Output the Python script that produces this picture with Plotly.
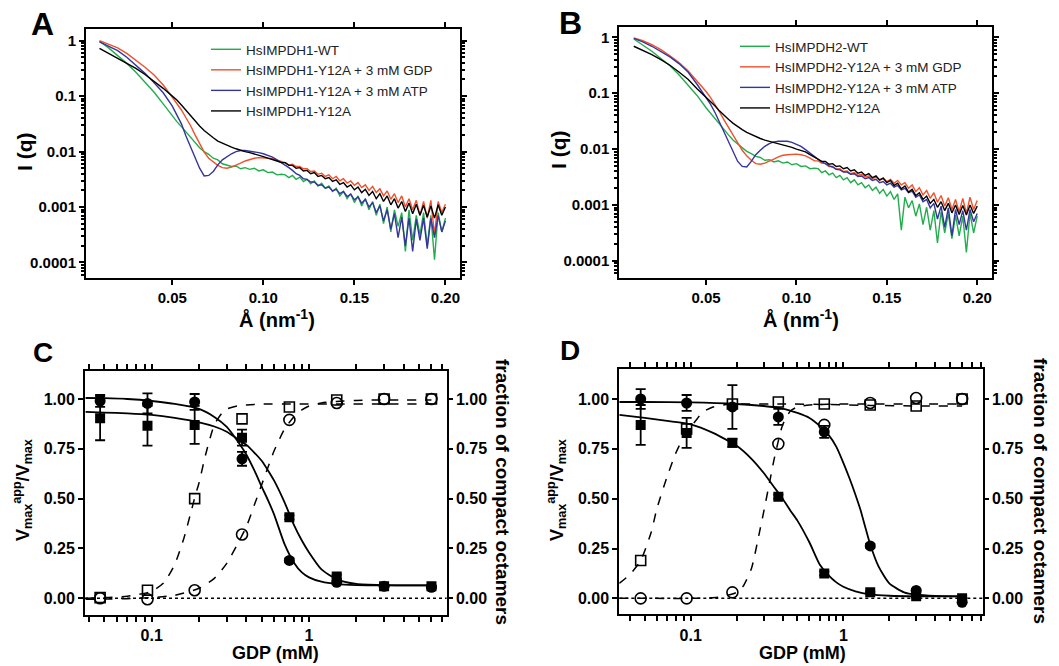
import plotly.graph_objects as go

# ---------------- Panels A / B : SAXS curves ----------------
Q_SMOOTH = [0.010, 0.015, 0.020, 0.025, 0.030, 0.035, 0.040, 0.045, 0.050,
            0.0525, 0.055, 0.0575, 0.060, 0.0625, 0.065, 0.0675, 0.070, 0.0725, 0.075, 0.0775,
            0.080, 0.0825, 0.085, 0.0875, 0.090, 0.0925, 0.095, 0.0975, 0.100, 0.1025, 0.105, 0.1075, 0.110]
Q_NOISY = [0.112, 0.114, 0.116, 0.118, 0.120, 0.122, 0.124, 0.126, 0.128, 0.130,
           0.132, 0.134, 0.136, 0.138, 0.140, 0.142, 0.144, 0.146, 0.148, 0.150,
           0.152, 0.154, 0.156, 0.158, 0.160, 0.162, 0.164, 0.166, 0.168, 0.170,
           0.172, 0.174, 0.176, 0.178, 0.180, 0.182, 0.184, 0.186, 0.188, 0.190,
           0.192, 0.194, 0.196, 0.198, 0.200]

# log10 I(q)  (smooth part, then noisy high-q part)
A_WT = [-0.01, -0.13, -0.27, -0.41, -0.57, -0.75, -0.93, -1.14, -1.36,
        -1.46, -1.55, -1.65, -1.75, -1.85, -1.93, -2.00, -2.05, -2.12, -2.15, -2.22,
        -2.24, -2.27, -2.26, -2.31, -2.29, -2.32, -2.30, -2.35, -2.33, -2.38, -2.37, -2.42, -2.41,
        -2.42, -2.47, -2.43, -2.50, -2.46, -2.54, -2.50, -2.58, -2.53, -2.62,
        -2.57, -2.66, -2.62, -2.72, -2.66, -2.80, -2.72, -2.85, -2.76, -2.92,
        -2.80, -2.98, -2.85, -3.05, -2.90, -3.15, -2.95, -3.30, -3.00, -3.45,
        -3.05, -3.35, -3.10, -3.80, -3.05, -3.60, -3.15, -3.50, -3.10, -3.70,
        -3.15, -3.95, -3.10, -3.45, -3.20]
A_GDP = [0.00, -0.06, -0.13, -0.23, -0.35, -0.48, -0.62, -0.80, -1.02,
         -1.13, -1.25, -1.39, -1.53, -1.70, -1.86, -2.01, -2.12, -2.19, -2.25, -2.29,
         -2.30, -2.28, -2.25, -2.21, -2.17, -2.14, -2.12, -2.11, -2.11, -2.12, -2.13, -2.16, -2.19,
         -2.20, -2.24, -2.23, -2.27, -2.27, -2.31, -2.31, -2.36, -2.35, -2.41,
         -2.39, -2.45, -2.42, -2.49, -2.45, -2.53, -2.49, -2.57, -2.53, -2.61,
         -2.56, -2.65, -2.60, -2.70, -2.63, -2.74, -2.67, -2.80, -2.71, -2.86,
         -2.76, -2.92, -2.80, -3.00, -2.85, -3.05, -2.88, -3.15, -2.90, -3.20,
         -2.88, -3.50, -2.90, -3.10, -2.95]
A_ATP = [-0.02, -0.10, -0.18, -0.30, -0.44, -0.59, -0.76, -0.94, -1.18,
         -1.34, -1.50, -1.72, -1.92, -2.12, -2.30, -2.44, -2.43, -2.36, -2.24, -2.15,
         -2.09, -2.04, -2.00, -1.98, -1.98, -1.99, -2.00, -2.02, -2.04, -2.07, -2.10, -2.15, -2.20,
         -2.24, -2.29, -2.34, -2.40, -2.43, -2.49, -2.50, -2.55, -2.55, -2.61,
         -2.60, -2.66, -2.64, -2.71, -2.68, -2.76, -2.72, -2.81, -2.77, -2.87,
         -2.82, -2.93, -2.86, -3.00, -2.92, -3.10, -2.98, -3.25, -3.05, -3.40,
         -3.12, -3.55, -3.18, -3.70, -3.20, -3.80, -3.22, -3.60, -3.20, -3.75,
         -3.20, -3.55, -3.15, -3.45, -3.25]
A_Y12A = [-0.14, -0.23, -0.31, -0.40, -0.50, -0.61, -0.73, -0.86, -1.00,
          -1.07, -1.16, -1.26, -1.36, -1.45, -1.54, -1.62, -1.69, -1.75, -1.81, -1.85,
          -1.89, -1.92, -1.95, -1.98, -2.00, -2.02, -2.04, -2.07, -2.09, -2.12, -2.14, -2.17, -2.20,
          -2.20, -2.25, -2.25, -2.30, -2.29, -2.35, -2.34, -2.40, -2.38, -2.45,
          -2.43, -2.49, -2.47, -2.54, -2.51, -2.59, -2.56, -2.64, -2.60, -2.69,
          -2.64, -2.74, -2.68, -2.79, -2.72, -2.85, -2.76, -2.90, -2.80, -2.96,
          -2.85, -3.02, -2.90, -3.08, -2.93, -3.12, -2.95, -3.15, -2.97, -3.18,
          -2.98, -3.20, -2.96, -3.15, -3.00]

# log10 I(q)
B_WT = [-0.03, -0.14, -0.25, -0.38, -0.51, -0.67, -0.85, -1.04, -1.26,
        -1.36, -1.46, -1.57, -1.66, -1.75, -1.84, -1.91, -1.98, -2.04, -2.08, -2.13,
        -2.15, -2.20, -2.19, -2.23, -2.21, -2.25, -2.23, -2.28, -2.26, -2.31, -2.30, -2.35, -2.34,
        -2.35, -2.42, -2.39, -2.46, -2.43, -2.51, -2.47, -2.55, -2.51, -2.60,
        -2.55, -2.64, -2.60, -2.69, -2.64, -2.74, -2.68, -2.79, -2.72, -2.84,
        -2.76, -2.90, -2.80, -3.45, -2.86, -3.05, -2.92, -3.20, -2.98, -3.35,
        -3.04, -3.45, -3.10, -3.68, -3.12, -3.50, -3.15, -3.60, -3.18, -3.55,
        -3.20, -3.85, -3.15, -3.50, -3.20]
B_GDP = [-0.01, -0.06, -0.13, -0.22, -0.33, -0.45, -0.60, -0.78, -0.97,
         -1.08, -1.20, -1.34, -1.48, -1.62, -1.76, -1.90, -2.02, -2.12, -2.20, -2.26,
         -2.27, -2.25, -2.22, -2.18, -2.14, -2.11, -2.10, -2.09, -2.09, -2.10, -2.12, -2.16, -2.21,
         -2.21, -2.25, -2.26, -2.31, -2.31, -2.36, -2.35, -2.40, -2.39, -2.44,
         -2.42, -2.47, -2.45, -2.50, -2.48, -2.53, -2.50, -2.56, -2.52, -2.58,
         -2.54, -2.61, -2.56, -2.64, -2.60, -2.70, -2.64, -2.76, -2.69, -2.82,
         -2.74, -2.88, -2.78, -2.95, -2.83, -3.02, -2.87, -3.08, -2.90, -3.12,
         -2.88, -3.15, -2.86, -3.08, -2.92]
B_ATP = [-0.02, -0.08, -0.16, -0.25, -0.35, -0.47, -0.62, -0.84, -1.08,
         -1.20, -1.35, -1.52, -1.70, -1.88, -2.06, -2.22, -2.31, -2.32, -2.22, -2.10,
         -2.02, -1.95, -1.90, -1.87, -1.86, -1.86, -1.86, -1.88, -1.91, -1.95, -2.01, -2.07, -2.14,
         -2.18, -2.23, -2.26, -2.30, -2.32, -2.36, -2.37, -2.41, -2.41, -2.45,
         -2.44, -2.49, -2.48, -2.53, -2.51, -2.56, -2.54, -2.60, -2.58, -2.64,
         -2.61, -2.68, -2.65, -2.73, -2.70, -2.78, -2.75, -2.86, -2.82, -2.94,
         -2.90, -3.05, -2.97, -3.25, -3.02, -3.40, -3.05, -3.55, -3.08, -3.35,
         -3.10, -3.45, -3.08, -3.30, -3.15]
B_Y12A = [-0.16, -0.23, -0.31, -0.40, -0.50, -0.62, -0.75, -0.92, -1.07,
          -1.14, -1.23, -1.32, -1.40, -1.47, -1.54, -1.60, -1.65, -1.70, -1.74, -1.77,
          -1.81, -1.84, -1.86, -1.88, -1.90, -1.92, -1.94, -1.97, -2.00, -2.02, -2.05, -2.10, -2.15,
          -2.18, -2.22, -2.22, -2.27, -2.26, -2.31, -2.30, -2.35, -2.33, -2.39,
          -2.37, -2.43, -2.41, -2.47, -2.44, -2.51, -2.48, -2.55, -2.52, -2.60,
          -2.56, -2.65, -2.61, -2.71, -2.66, -2.77, -2.72, -2.83, -2.78, -2.90,
          -2.84, -2.97, -2.90, -3.04, -2.94, -3.10, -2.97, -3.14, -3.00, -3.17,
          -3.01, -3.18, -3.00, -3.15, -3.02]

SAXS_NAMES_A = ["HsIMPDH1-WT", "HsIMPDH1-Y12A + 3 mM GDP", "HsIMPDH1-Y12A + 3 mM ATP", "HsIMPDH1-Y12A"]
SAXS_NAMES_B = ["HsIMPDH2-WT", "HsIMPDH2-Y12A + 3 mM GDP", "HsIMPDH2-Y12A + 3 mM ATP", "HsIMPDH2-Y12A"]
SAXS_COLORS = ["#22ad4c", "#f0502c", "#35359e", "#000000"]

for _s in [A_WT, A_GDP, A_ATP, A_Y12A, B_WT, B_GDP, B_ATP, B_Y12A]:
    assert len(_s) == len(Q_SMOOTH) + len(Q_NOISY), len(_s)

# ---------------- Panels C / D : GDP titrations ----------------
GDP = [0.047, 0.094, 0.1875, 0.375, 0.75, 1.5, 3, 6]

C_CIRC = [0.99, 0.978, 0.985, 0.70, 0.19, 0.08, 0.06, 0.055]
C_CIRC_ERR = [0.03, 0.05, 0.04, 0.035, 0.01, 0.01, 0.005, 0.005]
C_SQ = [0.903, 0.866, 0.87, 0.806, 0.406, 0.109, 0.06, 0.06]
C_SQ_ERR = [0.11, 0.10, 0.095, 0.04, 0.01, 0.01, 0.005, 0.005]
C_OSQ = [0.003, 0.04, 0.50, 0.90, 0.96, 0.995, 1.0, 1.0]
C_OCIRC = [0.0, -0.005, 0.04, 0.32, 0.895, 0.98, 1.0, 1.0]

D_CIRC = [1.0, 0.98, 0.96, 0.91, 0.835, 0.263, 0.04, -0.02]
D_CIRC_ERR = [0.05, 0.04, 0.11, 0.04, 0.03, 0.01, 0.005, 0.005]
D_SQ = [0.87, 0.83, 0.78, 0.51, 0.125, 0.03, 0.01, 0.0]
D_SQ_ERR = [0.10, 0.075, 0.02, 0.01, 0.01, 0.005, 0.005, 0.005]
D_OSQ = [0.19, 0.85, 0.975, 0.985, 0.975, 0.97, 0.965, 1.0]
D_OCIRC = [0.0, 0.0, 0.03, 0.775, 0.87, 0.98, 1.005, 1.0]

# fitted curves
C_FIT_X = [0.038, 0.05, 0.07, 0.1, 0.14, 0.2, 0.25, 0.3, 0.35, 0.4, 0.45, 0.5, 0.55, 0.6,
           0.7, 0.8, 0.9, 1.0, 1.2, 1.5, 2, 3, 4, 6]
C_FIT_CIRC = [1.005, 1.004, 1.0, 0.99, 0.975, 0.95, 0.91, 0.86, 0.79, 0.72, 0.64, 0.56, 0.49, 0.42,
              0.27, 0.18, 0.13, 0.105, 0.083, 0.071, 0.066, 0.065, 0.065, 0.065]
C_FIT_SQ = [0.935, 0.932, 0.928, 0.92, 0.905, 0.883, 0.862, 0.836, 0.80, 0.77, 0.73, 0.69, 0.64, 0.59,
            0.48, 0.37, 0.29, 0.23, 0.145, 0.095, 0.072, 0.066, 0.065, 0.065]
C_DASH_SQ_X = [0.038, 0.05, 0.07, 0.1, 0.12, 0.14, 0.16, 0.18, 0.19, 0.2, 0.22, 0.25, 0.28, 0.3,
               0.35, 0.4, 0.5, 0.8, 1.5, 3, 6]
C_DASH_SQ = [0.0, 0.003, 0.01, 0.035, 0.08, 0.17, 0.30, 0.45, 0.52, 0.58, 0.72, 0.87, 0.93, 0.95,
             0.965, 0.97, 0.975, 0.975, 0.975, 0.975, 0.975]
C_DASH_CIRC_X = [0.038, 0.05, 0.07, 0.1, 0.14, 0.2, 0.25, 0.3, 0.35, 0.4, 0.45, 0.5, 0.55, 0.6,
                 0.7, 0.8, 0.9, 1.0, 1.2, 1.5, 2, 3, 6]
C_DASH_CIRC = [-0.005, -0.004, -0.002, 0.003, 0.015, 0.05, 0.10, 0.175, 0.27, 0.36, 0.47, 0.57, 0.66, 0.74,
               0.85, 0.91, 0.945, 0.965, 0.98, 0.988, 0.993, 0.995, 0.995]

D_FIT_CIRC_X = [0.034, 0.05, 0.1, 0.2, 0.3, 0.4, 0.5, 0.6, 0.7, 0.8, 0.9, 1.0, 1.1, 1.2, 1.3, 1.4,
                1.5, 1.7, 2.0, 2.5, 3, 4, 6]
D_FIT_CIRC = [0.985, 0.985, 0.983, 0.975, 0.965, 0.952, 0.93, 0.905, 0.865, 0.82, 0.76, 0.68, 0.60,
              0.52, 0.44, 0.35, 0.27, 0.16, 0.075, 0.03, 0.018, 0.012, 0.01]
D_FIT_SQ_X = [0.034, 0.05, 0.07, 0.1, 0.14, 0.2, 0.25, 0.3, 0.35, 0.4, 0.45, 0.5, 0.6, 0.7, 0.8, 0.9,
              1.0, 1.2, 1.5, 2, 3, 6]
D_FIT_SQ = [0.92, 0.905, 0.89, 0.873, 0.83, 0.765, 0.70, 0.63, 0.56, 0.50, 0.44, 0.39, 0.28, 0.17,
            0.115, 0.08, 0.058, 0.035, 0.02, 0.013, 0.01, 0.01]
D_DASH_SQ_X = [0.034, 0.04, 0.047, 0.055, 0.06, 0.07, 0.08, 0.09, 0.1, 0.11, 0.12, 0.14, 0.17, 0.2,
               0.4, 0.8, 1.5, 3, 6]
D_DASH_SQ = [0.075, 0.12, 0.19, 0.33, 0.45, 0.61, 0.73, 0.81, 0.86, 0.90, 0.935, 0.96, 0.972, 0.975,
             0.975, 0.972, 0.968, 0.965, 0.965]
D_DASH_CIRC_X = [0.034, 0.05, 0.1, 0.15, 0.18, 0.2, 0.22, 0.25, 0.28, 0.3, 0.33, 0.35, 0.375, 0.4,
                 0.45, 0.5, 0.6, 1, 3, 6]
D_DASH_CIRC = [0.0, 0.0, 0.0, 0.005, 0.018, 0.03, 0.06, 0.15, 0.32, 0.43, 0.59, 0.69, 0.79, 0.87,
               0.94, 0.96, 0.97, 0.975, 0.975, 0.975]

FRAC_TICKS = [0, 0.25, 0.5, 0.75, 1.0]
SAXS_XTICKS = [0.05, 0.10, 0.15, 0.20]
SAXS_XTICK_TEXT = ["0.05", "0.10", "0.15", "0.20"]
SAXS_YTICKS = [1, 0.1, 0.01, 0.001, 0.0001]
SAXS_YTICK_TEXT = ["1", "0.1", "0.01", "0.001", "0.0001"]
GDP_TICKS = [0.1, 1]
GDP_TICK_TEXT = ["0.1", "1"]

# ---------------- figure ----------------
W, H = 1059, 666
FONT = "Liberation Sans, Arial, Helvetica, sans-serif"


def px(x):
    return x / W


def py(y):
    return 1 - y / H


fig = go.Figure()

q_all = Q_SMOOTH + Q_NOISY
for name, color, vals in zip(SAXS_NAMES_A, SAXS_COLORS, [A_WT, A_GDP, A_ATP, A_Y12A]):
    fig.add_trace(go.Scatter(x=q_all, y=[10 ** v for v in vals], mode="lines", name=name,
                             line=dict(color=color, width=1.4), xaxis="x", yaxis="y",
                             legend="legend"))
for name, color, vals in zip(SAXS_NAMES_B, SAXS_COLORS, [B_WT, B_GDP, B_ATP, B_Y12A]):
    fig.add_trace(go.Scatter(x=q_all, y=[10 ** v for v in vals], mode="lines", name=name,
                             line=dict(color=color, width=1.4), xaxis="x2", yaxis="y2",
                             legend="legend2"))


def titration(xa, ya, yr, circ, circ_err, sq, sq_err, osq, ocirc,
              fcx, fc, fsx, fs, dsx, ds, dcx, dc):
    common = dict(showlegend=False, hoverinfo="x+y")
    dash = dict(color="black", width=1.5, dash="dash", shape="spline", smoothing=0.6)
    solid = dict(color="black", width=1.8, shape="spline", smoothing=0.6)
    # dashed fits (right axis)
    fig.add_trace(go.Scatter(x=dsx, y=ds, mode="lines", xaxis=xa, yaxis=yr, line=dash, **common))
    fig.add_trace(go.Scatter(x=dcx, y=dc, mode="lines", xaxis=xa, yaxis=yr, line=dash, **common))
    # solid fits (left axis)
    fig.add_trace(go.Scatter(x=fcx, y=fc, mode="lines", xaxis=xa, yaxis=ya, line=solid, **common))
    fig.add_trace(go.Scatter(x=fsx, y=fs, mode="lines", xaxis=xa, yaxis=ya, line=solid, **common))
    # open markers (right axis)
    fig.add_trace(go.Scatter(x=GDP, y=osq, mode="markers", xaxis=xa, yaxis=yr,
                             marker=dict(symbol="square-open", size=10, color="black", line=dict(width=1.6)),
                             **common))
    fig.add_trace(go.Scatter(x=GDP, y=ocirc, mode="markers", xaxis=xa, yaxis=yr,
                             marker=dict(symbol="circle-open", size=11, color="black", line=dict(width=1.6)),
                             **common))
    # filled markers with error bars (left axis)
    fig.add_trace(go.Scatter(x=GDP, y=sq, mode="markers", xaxis=xa, yaxis=ya,
                             error_y=dict(type="data", array=sq_err, color="black", thickness=1.8, width=5),
                             marker=dict(symbol="square", size=10, color="black"), **common))
    fig.add_trace(go.Scatter(x=GDP, y=circ, mode="markers", xaxis=xa, yaxis=ya,
                             error_y=dict(type="data", array=circ_err, color="black", thickness=1.8, width=5),
                             marker=dict(symbol="circle", size=11, color="black"), **common))


titration("x3", "y3", "y5", C_CIRC, C_CIRC_ERR, C_SQ, C_SQ_ERR, C_OSQ, C_OCIRC,
          C_FIT_X, C_FIT_CIRC, C_FIT_X, C_FIT_SQ, C_DASH_SQ_X, C_DASH_SQ, C_DASH_CIRC_X, C_DASH_CIRC)
titration("x4", "y4", "y6", D_CIRC, D_CIRC_ERR, D_SQ, D_SQ_ERR, D_OSQ, D_OCIRC,
          D_FIT_CIRC_X, D_FIT_CIRC, D_FIT_SQ_X, D_FIT_SQ, D_DASH_SQ_X, D_DASH_SQ, D_DASH_CIRC_X, D_DASH_CIRC)


def axis(size=15, **kw):
    d = dict(showline=True, linecolor="black", linewidth=2, mirror="allticks",
             ticks="outside", ticklen=5, tickwidth=1.5, tickcolor="black",
             showgrid=False, zeroline=False,
             tickfont=dict(family=FONT, size=size, color="black", weight="bold"))
    d.update(kw)
    return d


log_minor = [m * 10 ** e for e in range(-5, 1) for m in range(2, 10)]
gdp_minor = [m * 10 ** e for e in range(-2, 1) for m in range(2, 10)]
minor_log = dict(tickmode="array", tickvals=log_minor, ticks="outside", ticklen=3,
                 tickcolor="black", showgrid=False)
minor_gdp = dict(tickmode="array", tickvals=gdp_minor, ticks="outside", ticklen=3,
                 tickcolor="black", showgrid=False)

fig.update_layout(
    width=W, height=H, margin=dict(l=0, r=0, t=0, b=0),
    paper_bgcolor="white", plot_bgcolor="white",
    font=dict(family=FONT, color="black"),
    showlegend=True,
    # Panel A
    xaxis=axis(domain=[px(86), px(460)], anchor="y", range=[0.0026, 0.208],
               tickmode="array", tickvals=SAXS_XTICKS, ticktext=SAXS_XTICK_TEXT),
    yaxis=axis(domain=[py(278), py(29)], anchor="x", type="log", range=[-4.28, 0.21],
               tickmode="array", tickvals=SAXS_YTICKS, ticktext=SAXS_YTICK_TEXT, minor=minor_log),
    # Panel B
    xaxis2=axis(domain=[px(619.3), px(991.7)], anchor="y2", range=[0.002, 0.208],
                tickmode="array", tickvals=SAXS_XTICKS, ticktext=SAXS_XTICK_TEXT),
    yaxis2=axis(domain=[py(277.7), py(27.3)], anchor="x2", type="log", range=[-4.30, 0.179],
                tickmode="array", tickvals=SAXS_YTICKS, ticktext=SAXS_YTICK_TEXT, minor=minor_log),
    # Panel C
    xaxis3=axis(size=16, domain=[px(85), px(446.7)], anchor="y3", type="log", range=[-1.424, 0.875],
                tickmode="array", tickvals=GDP_TICKS, ticktext=GDP_TICK_TEXT, minor=minor_gdp),
    yaxis3=axis(size=16, domain=[py(615), py(370.7)], anchor="x3", range=[-0.084, 1.142],
                tickmode="array", tickvals=FRAC_TICKS, tickformat=".2f", mirror=True),
    yaxis5=axis(size=16, overlaying="y3", side="right", anchor="x3", range=[-0.084, 1.142],
                tickmode="array", tickvals=FRAC_TICKS, tickformat=".2f", showline=False, mirror=False),
    # Panel D
    xaxis4=axis(size=16, domain=[px(619.3), px(982.7)], anchor="y4", type="log", range=[-1.468, 0.913],
                tickmode="array", tickvals=GDP_TICKS, ticktext=GDP_TICK_TEXT, minor=minor_gdp),
    yaxis4=axis(size=16, domain=[py(614.3), py(369.3)], anchor="x4", range=[-0.080, 1.149],
                tickmode="array", tickvals=FRAC_TICKS, tickformat=".2f", mirror=True),
    yaxis6=axis(size=16, overlaying="y4", side="right", anchor="x4", range=[-0.080, 1.149],
                tickmode="array", tickvals=FRAC_TICKS, tickformat=".2f", showline=False, mirror=False),
    legend=dict(x=px(206), y=py(34), xanchor="left", yanchor="top", bgcolor="rgba(0,0,0,0)",
                font=dict(family=FONT, size=13.5, color="#222222"), tracegroupgap=0, itemwidth=30),
    legend2=dict(x=px(735), y=py(31), xanchor="left", yanchor="top", bgcolor="rgba(0,0,0,0)",
                 font=dict(family=FONT, size=13.5, color="#222222"), tracegroupgap=0, itemwidth=30),
)

# dotted zero lines in C and D
for xa, ya in [("x3", "y3"), ("x4", "y4")]:
    fig.add_shape(type="line", xref=f"{xa} domain", yref=ya, x0=0, x1=1, y0=0, y1=0,
                  line=dict(color="black", width=1.5, dash="dot"))


def label(text, x, y, size, angle=0):
    fig.add_annotation(text=text, x=px(x), y=py(y), xref="paper", yref="paper",
                       showarrow=False, textangle=angle, xanchor="center", yanchor="middle",
                       font=dict(family=FONT, size=size, color="black", weight="bold"))


# panel letters
label("A", 42, 24, 32)
label("B", 570, 23, 32)
label("C", 43, 352, 28)
label("D", 570, 351, 28)

# axis titles
label("I (q)", 25, 152, 21, -90)
label("I (q)", 558, 150, 21, -90)
label("Å (nm<sup>-1</sup>)", 277, 318, 20)
label("Å (nm<sup>-1</sup>)", 801, 318, 20)
label("V<sub>max</sub><sup>app</sup>/V<sub>max</sub>", 22, 490, 18, -90)
label("V<sub>max</sub><sup>app</sup>/V<sub>max</sub>", 556, 490, 18, -90)
label("fraction of compact octamers", 503, 492, 19, 90)
label("fraction of compact octamers", 1041, 491, 19, 90)
label("GDP (mM)", 275, 653, 18)
label("GDP (mM)", 802, 653, 18)

fig.write_html("out.html", config={"displayModeBar": False},
               post_script="document.body.style.margin='0';document.body.style.overflow='hidden';")
